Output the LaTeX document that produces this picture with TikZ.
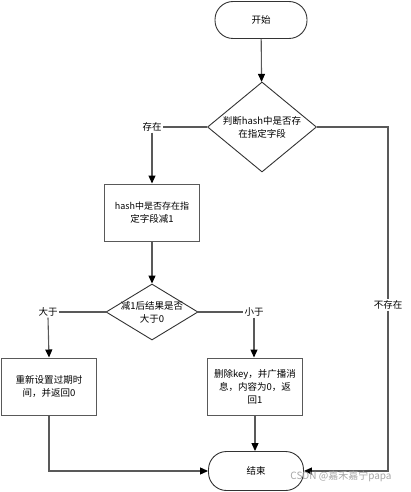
\documentclass[tikz,border=0pt]{standalone}
\usepackage{fontspec}
\setmainfont{Noto Sans CJK SC}
\usetikzlibrary{shapes.geometric,arrows.meta,positioning}

\newcommand{\chartfont}{\fontsize{9.5pt}{13pt}\selectfont}

\tikzset{
	term/.style={draw=black!80, line width=0.9pt, rounded corners=18pt, minimum width=92pt, minimum height=37pt, font=\chartfont},
	decision/.style={draw=black!80, line width=0.9pt, diamond, inner sep=0pt},
	procbox/.style={draw=black!65, line width=1pt, minimum width=95pt, minimum height=57pt, align=center, font=\chartfont},
	tag/.style={font=\chartfont, fill=white, inner sep=1pt},
	flow/.style={draw=black!65, line width=1.1pt},
	flowarr/.style={flow, -{Triangle[length=8pt,width=7pt,black]}}
}

\begin{document}
\begin{tikzpicture}[x=1pt, y=-1pt]
		\useasboundingbox (0,0) rectangle (410,492);

		% main column
		\node [term] (start) at (261,20) {开始};
		\node [decision, minimum width=109pt, minimum height=90pt,
			label={[align=center, font=\chartfont]center:判断hash中是否存\\在指定字段}] (check) at (262,127) {};
		\node [procbox] (decr) at (152,212.5) {{\fontsize{9pt}{13pt}\selectfont hash中是否存在指}\\定字段减1};
		\node [decision, minimum width=92pt, minimum height=56pt,
			label={[align=center, font=\chartfont]center:减1后结果是否\\大于0}] (cmp) at (152,312) {};
		\node [procbox] (reset) at (49,386.5) {重新设置过期时\\间，并返回0};
		\node [procbox] (delkey) at (255,386.5) {删除key，并广播消\\息，内容为0，返\\回1};
		\node [term, minimum width=95pt, minimum height=39pt] (stop) at (256,471) {结束};

		% branch labels
		\node [tag] (yes) at (152,127) {存在};
		\node [tag] (gt) at (48,312) {大于};
		\node [tag] (lt) at (254,312) {小于};
		\node [tag] (no) at (388,305) {不存在};
		\coordinate (turn) at (388,127);

		\draw [flowarr] (start) -- (check);
		\draw [flow] (check.west) -- (yes.east);
		\draw [flowarr] (yes.south) -- (decr.north);
		\draw [flowarr] (decr) -- (cmp);
		\draw [flow] (cmp.west) -- (gt.east);
		\draw [flowarr] (gt.south) -- (reset.north);
		\draw [flow] (cmp.east) -- (lt.west);
		\draw [flowarr] (lt.south) -- (lt.south |- delkey.north);
		\draw [flow] (check.east) -- (turn) -- (no.north);
		\draw [flowarr] (no.south) |- (stop.east);
		\draw [flowarr] (reset.south) |- (stop.west);
		\draw [flowarr] (delkey.south) -- (delkey.south |- stop.north);

		% watermark
		\node [font=\fontsize{10pt}{12pt}\selectfont, text=black!35] (mark) at (341,476) {CSDN @嘉禾嘉宁papa};
	\end{tikzpicture}
\end{document}
